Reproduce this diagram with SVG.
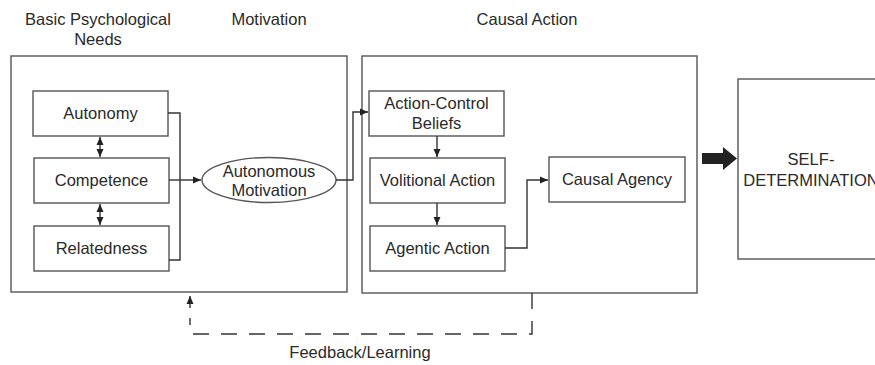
<svg xmlns="http://www.w3.org/2000/svg" width="875" height="365" viewBox="0 0 875 365">
<style>
text{font-family:"Liberation Sans",Arial,sans-serif;font-size:16.5px;fill:#2a2a2a;text-anchor:middle}
.box{fill:#fff;stroke:#555;stroke-width:1.4}
.ln{fill:none;stroke:#333;stroke-width:1.4}
</style>
<defs>
<marker id="ah" markerUnits="userSpaceOnUse" markerWidth="10" markerHeight="10" refX="8" refY="4" orient="auto-start-reverse" viewBox="0 0 10 8">
<path d="M0,0.5 L8,4 L0,7.5 Z" fill="#222"/>
</marker>
</defs>
<rect width="875" height="365" fill="#fff"/>
<g id="titles">
<text x="98" y="25">Basic Psychological</text>
<text x="98" y="45">Needs</text>
<text x="269" y="25">Motivation</text>
<text x="527" y="25">Causal Action</text>
</g>
<g id="needs-panel"><rect class="box" x="11" y="56" width="336" height="236"/></g>
<g id="action-panel"><rect class="box" x="362" y="56" width="335" height="237"/></g>
<g id="autonomy"><rect class="box" x="33" y="91" width="135" height="45"/><text x="100.5" y="119">Autonomy</text></g>
<g id="competence"><rect class="box" x="34" y="158" width="135" height="45"/><text x="101.5" y="186">Competence</text></g>
<g id="relatedness"><rect class="box" x="34" y="226" width="135" height="45"/><text x="101.5" y="254">Relatedness</text></g>
<g id="autonomous-motivation"><ellipse cx="269" cy="180" rx="67" ry="22.5" fill="#fff" stroke="#555" stroke-width="1.4"/><text x="269" y="177">Autonomous</text><text x="269" y="196">Motivation</text></g>
<g id="action-control"><rect class="box" x="369" y="91" width="135" height="45"/><text x="436.5" y="109">Action-Control</text><text x="436.5" y="129">Beliefs</text></g>
<g id="volitional"><rect class="box" x="370" y="158" width="135" height="45"/><text x="437.5" y="186">Volitional Action</text></g>
<g id="agentic"><rect class="box" x="370" y="226" width="135" height="45"/><text x="437.5" y="254">Agentic Action</text></g>
<g id="causal-agency"><rect class="box" x="549" y="157" width="136" height="45"/><text x="617" y="185">Causal Agency</text></g>
<g id="self-determination"><rect class="box" x="738" y="79" width="150" height="180"/><text x="811" y="165">SELF-</text><text x="811" y="186">DETERMINATION</text></g>
<g id="connectors">
<path class="ln" d="M168,113 H180 V260 H169"/>
<path class="ln" d="M169,180 H201" marker-end="url(#ah)"/>
<path class="ln" d="M100,137 V157" marker-start="url(#ah)" marker-end="url(#ah)"/>
<path class="ln" d="M100,204 V225" marker-start="url(#ah)" marker-end="url(#ah)"/>
<path class="ln" d="M336,180 H353 V112 H368" marker-end="url(#ah)"/>
<path class="ln" d="M437,136 V157" marker-end="url(#ah)"/>
<path class="ln" d="M437,203 V225" marker-end="url(#ah)"/>
<path class="ln" d="M505,248 H527 V180 H548" marker-end="url(#ah)"/>
<path d="M702,153 H723 V147 L737,158.5 L723,170 V164 H702 Z" fill="#222"/>
<path class="ln" d="M532,293 V334 H190 V318" stroke-dasharray="16 12"/>
<path class="ln" d="M190,308 V296" marker-end="url(#ah)"/>
</g>
<text x="360" y="358">Feedback/Learning</text>
</svg>
